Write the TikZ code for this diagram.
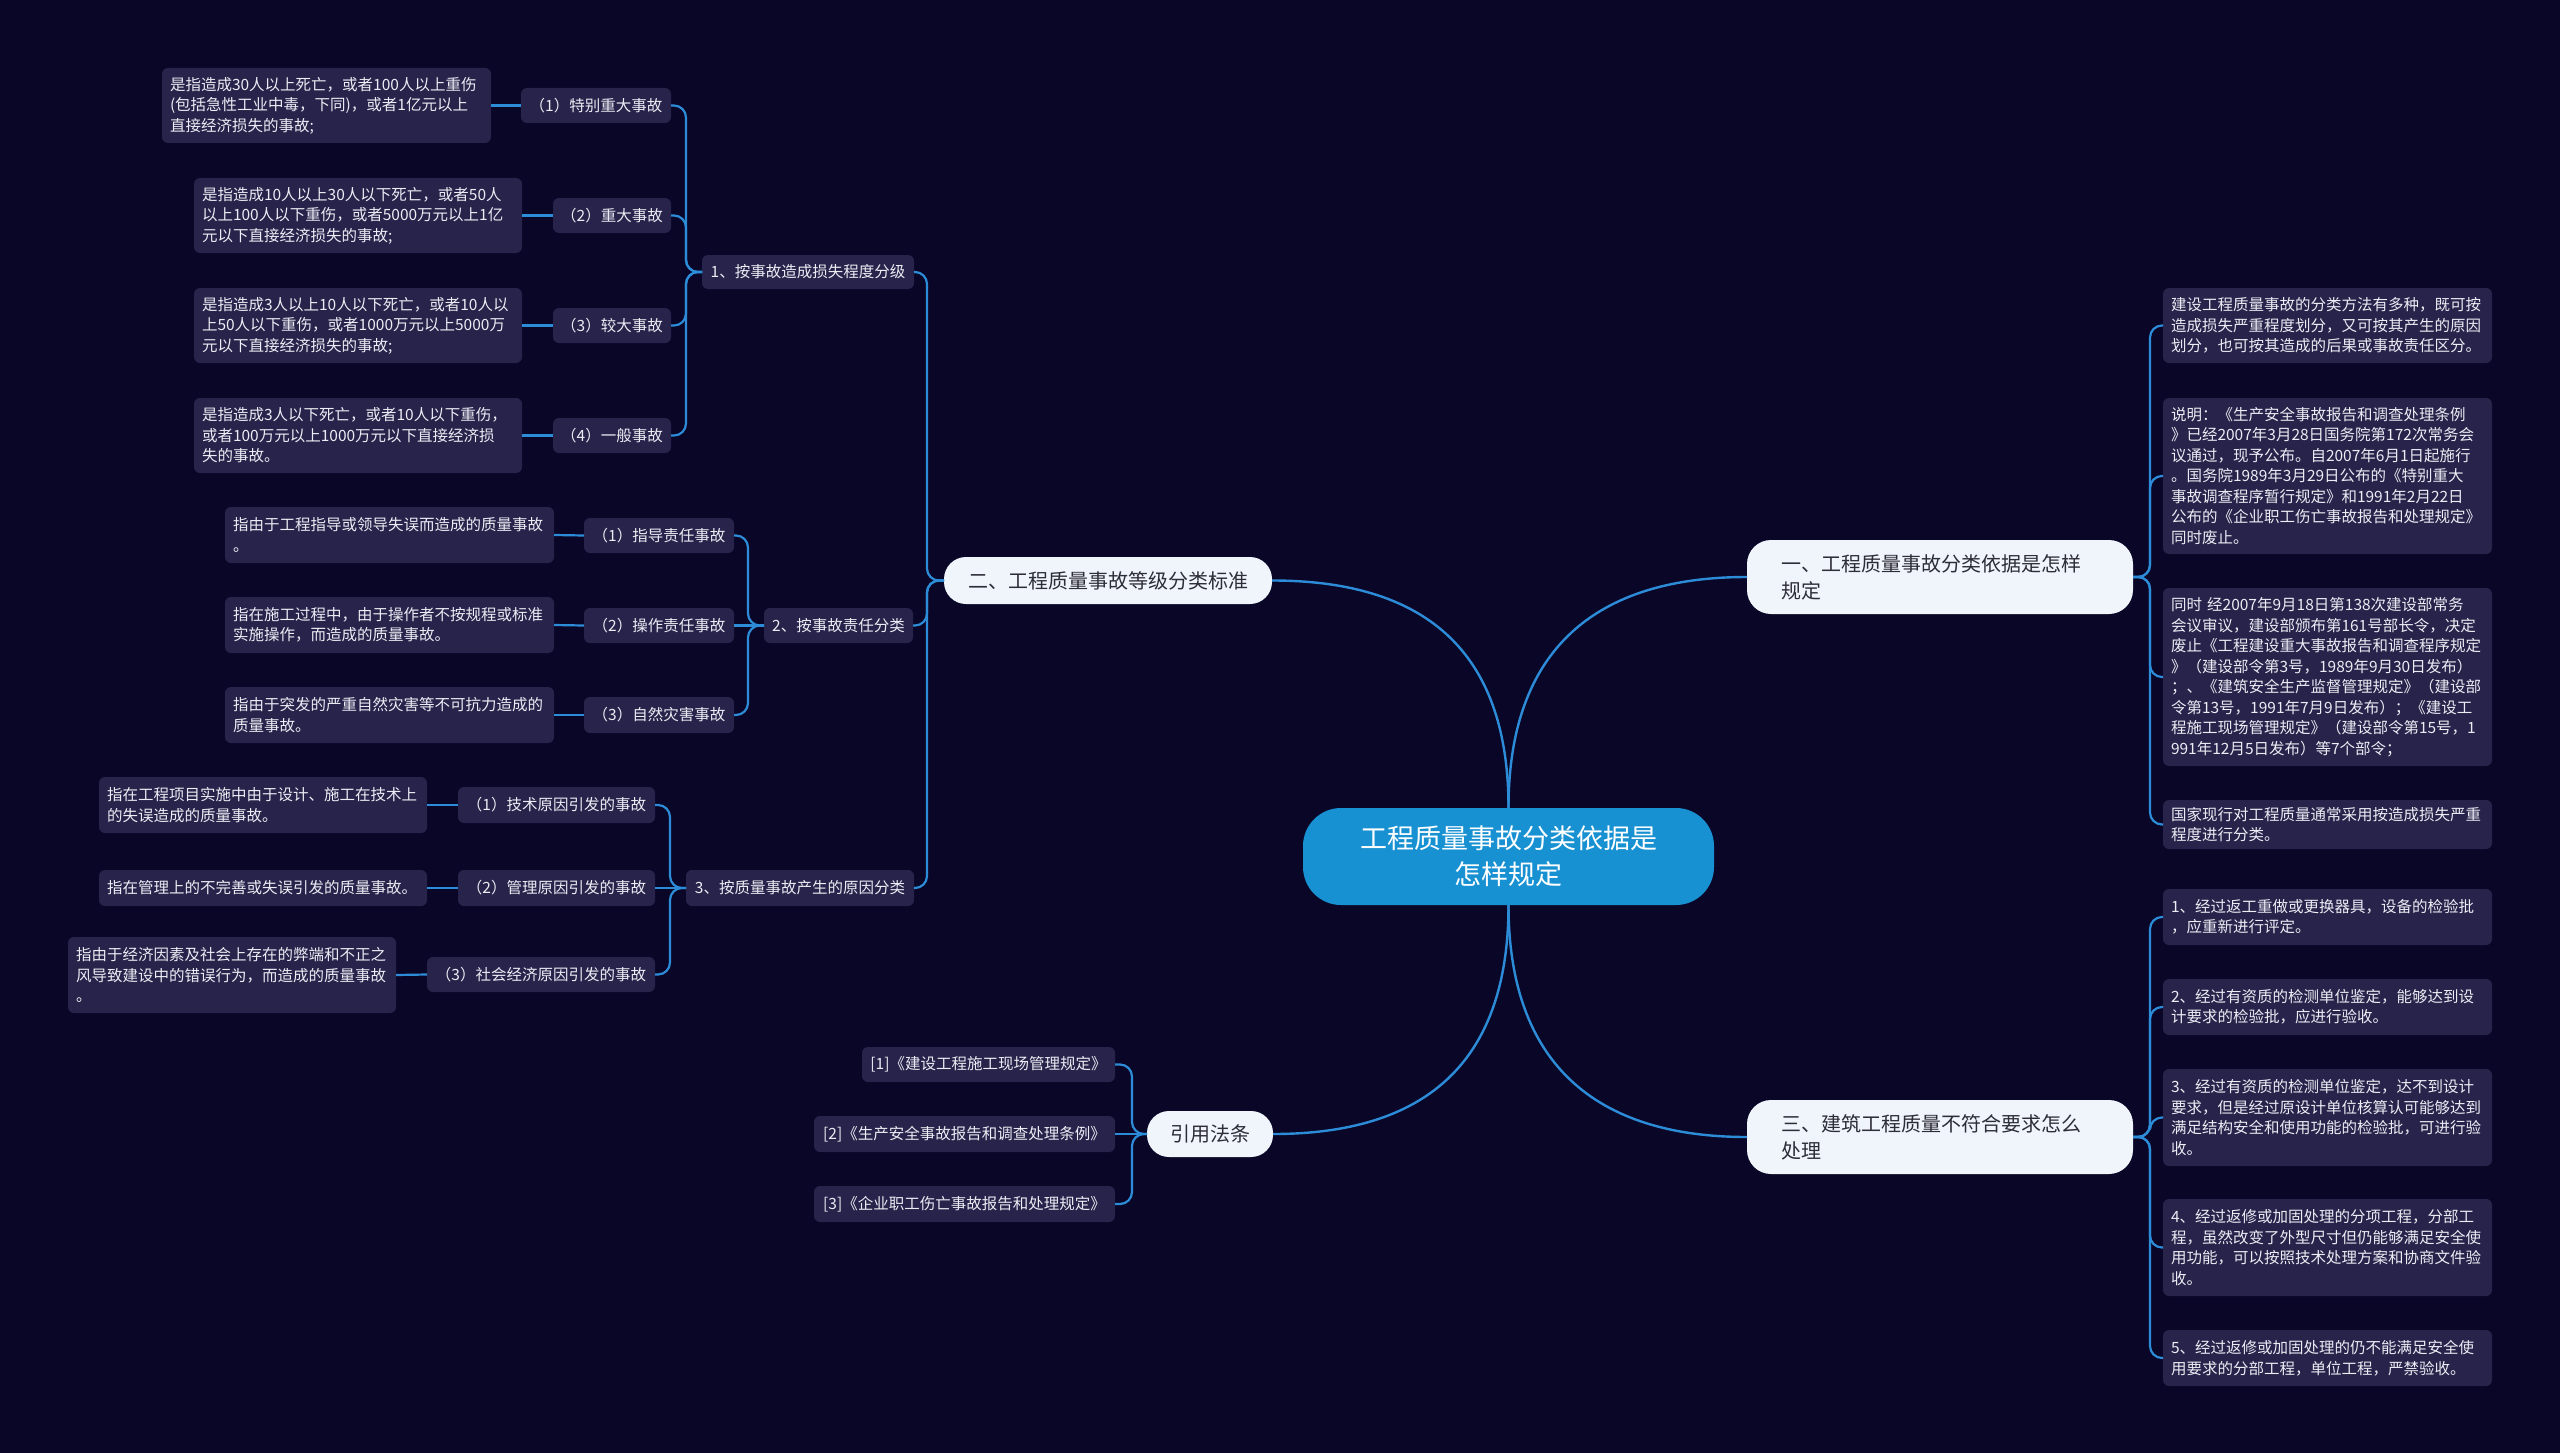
\documentclass[tikz,border=0pt]{standalone}
\usepackage{fontspec}
\setmainfont{Noto Sans CJK SC}
\definecolor{bgc}{RGB}{10,6,40}
\definecolor{leafc}{RGB}{39,35,74}
\definecolor{leaftext}{RGB}{236,236,244}
\definecolor{linec}{RGB}{45,140,215}
\definecolor{rootc}{RGB}{24,145,210}
\definecolor{mainc}{RGB}{240,245,252}
\definecolor{maintext}{RGB}{45,45,55}
\newcommand{\mmbox}[8]{%
 \pgfmathsetmacro{\mmw}{#5-#3}\pgfmathsetmacro{\mmh}{#6-#4}%
 \pgfmathsetmacro{\mmtw}{#5-#3-2*#7}%
 \pgfmathsetmacro{\mmcx}{(#3+#5)/2}\pgfmathsetmacro{\mmcy}{(#4+#6)/2}%
 \node[#1, inner xsep=#7pt, text width=\mmtw pt, minimum width=\mmw pt, minimum height=\mmh pt] (#2) at (\mmcx,\mmcy) {#8};}
\tikzset{
 base/.style={outer sep=0pt, inner ysep=0pt},
 leaf/.style={base, fill=leafc, rounded corners=6pt, text=leaftext, align=left, font=\fontsize{15.5}{20.5}\selectfont},
 mid/.style={base, fill=leafc, rounded corners=6pt, text=leaftext, align=center, font=\fontsize{15.5}{20.5}\selectfont},
 mainl/.style={base, fill=mainc, rounded corners=24pt, text=maintext, align=left, font=\fontsize{20}{27}\selectfont},
 mainc/.style={base, fill=mainc, rounded corners=22pt, text=maintext, align=center, font=\fontsize{20}{27}\selectfont},
 rootn/.style={base, fill=rootc, rounded corners=38pt, text=white, align=center, font=\fontsize{27}{36}\selectfont},
 conn/.style={draw=linec, line width=2.2pt, rounded corners=12pt},
 curv/.style={draw=linec, line width=2.4pt},
}
\begin{document}
\begin{tikzpicture}[x=1pt,y=-1pt]
\fill[bgc] (0,0) rectangle (2560,1453);
\useasboundingbox (0,0) rectangle (2560,1453);
% root and main branches
\mmbox{rootn}{root}{1303}{808}{1714}{905}{20}{工程质量事故分类依据是\\怎样规定}
\mmbox{mainl}{one}{1747}{540}{2133}{614}{34}{一、工程质量事故分类依据是怎样\\规定}
\mmbox{mainc}{two}{944}{557}{1272}{604}{12}{二、工程质量事故等级分类标准}
\mmbox{mainl}{three}{1747}{1100}{2133}{1174}{34}{三、建筑工程质量不符合要求怎么\\处理}
\mmbox{mainc}{law}{1147}{1111}{1273}{1157}{10}{引用法条}
% level 2 left
\mmbox{mid}{c1}{702}{255}{914}{289}{6}{1、按事故造成损失程度分级}
\mmbox{mid}{c2}{764}{608}{913}{643}{6}{2、按事故责任分类}
\mmbox{mid}{c3}{686}{870}{914}{906}{6}{3、按质量事故产生的原因分类}
% level 3
\mmbox{mid}{c1a}{521}{88}{671}{123}{6}{（1）特别重大事故}
\mmbox{mid}{c1b}{553}{198}{671}{233}{6}{（2）重大事故}
\mmbox{mid}{c1c}{553}{308}{671}{343}{6}{（3）较大事故}
\mmbox{mid}{c1d}{553}{418}{671}{453}{6}{（4）一般事故}
\mmbox{mid}{c2a}{584}{518}{734}{553}{6}{（1）指导责任事故}
\mmbox{mid}{c2b}{584}{608}{734}{643}{6}{（2）操作责任事故}
\mmbox{mid}{c2c}{584}{697}{734}{733}{6}{（3）自然灾害事故}
\mmbox{mid}{c3a}{458}{787}{655}{823}{6}{（1）技术原因引发的事故}
\mmbox{mid}{c3b}{458}{870}{655}{906}{6}{（2）管理原因引发的事故}
\mmbox{mid}{c3c}{427}{957}{655}{992}{6}{（3）社会经济原因引发的事故}
% level 4
\mmbox{leaf}{d1a}{162}{68}{491}{143}{8}{是指造成30人以上死亡，或者100人以上重伤\\(包括急性工业中毒，下同)，或者1亿元以上\\直接经济损失的事故;}
\mmbox{leaf}{d1b}{194}{178}{522}{253}{8}{是指造成10人以上30人以下死亡，或者50人\\以上100人以下重伤，或者5000万元以上1亿\\元以下直接经济损失的事故;}
\mmbox{leaf}{d1c}{194}{288}{522}{363}{8}{是指造成3人以上10人以下死亡，或者10人以\\上50人以下重伤，或者1000万元以上5000万\\元以下直接经济损失的事故;}
\mmbox{leaf}{d1d}{194}{398}{522}{473}{8}{是指造成3人以下死亡，或者10人以下重伤，\\或者100万元以上1000万元以下直接经济损\\失的事故。}
\mmbox{leaf}{d2a}{225}{507}{554}{563}{8}{指由于工程指导或领导失误而造成的质量事故\\。}
\mmbox{leaf}{d2b}{225}{597}{554}{653}{8}{指在施工过程中，由于操作者不按规程或标准\\实施操作，而造成的质量事故。}
\mmbox{leaf}{d2c}{225}{687}{554}{743}{8}{指由于突发的严重自然灾害等不可抗力造成的\\质量事故。}
\mmbox{leaf}{d3a}{99}{777}{427}{833}{8}{指在工程项目实施中由于设计、施工在技术上\\的失误造成的质量事故。}
\mmbox{leaf}{d3b}{99}{870}{427}{906}{8}{指在管理上的不完善或失误引发的质量事故。}
\mmbox{leaf}{d3c}{68}{937}{396}{1013}{8}{指由于经济因素及社会上存在的弊端和不正之\\风导致建设中的错误行为，而造成的质量事故\\。}
% right side
\mmbox{leaf}{r1}{2163}{288}{2492}{363}{8}{建设工程质量事故的分类方法有多种，既可按\\造成损失严重程度划分，又可按其产生的原因\\划分，也可按其造成的后果或事故责任区分。}
\mmbox{leaf}{r2}{2163}{398}{2492}{554}{8}{说明：《生产安全事故报告和调查处理条例\\》已经2007年3月28日国务院第172次常务会\\议通过，现予公布。自2007年6月1日起施行\\。国务院1989年3月29日公布的《特别重大\\事故调查程序暂行规定》和1991年2月22日\\公布的《企业职工伤亡事故报告和处理规定》\\同时废止。}
\mmbox{leaf}{r3}{2163}{588}{2492}{766}{8}{同时 经2007年9月18日第138次建设部常务\\会议审议，建设部颁布第161号部长令，决定\\废止《工程建设重大事故报告和调查程序规定\\》（建设部令第3号，1989年9月30日发布）\\；、《建筑安全生产监督管理规定》（建设部\\令第13号，1991年7月9日发布）；《建设工\\程施工现场管理规定》（建设部令第15号，1\\991年12月5日发布）等7个部令；}
\mmbox{leaf}{r4}{2163}{800}{2492}{849}{8}{国家现行对工程质量通常采用按造成损失严重\\程度进行分类。}
\mmbox{leaf}{s1}{2163}{889}{2492}{945}{8}{1、经过返工重做或更换器具，设备的检验批\\，应重新进行评定。}
\mmbox{leaf}{s2}{2163}{979}{2492}{1035}{8}{2、经过有资质的检测单位鉴定，能够达到设\\计要求的检验批，应进行验收。}
\mmbox{leaf}{s3}{2163}{1069}{2492}{1166}{8}{3、经过有资质的检测单位鉴定，达不到设计\\要求，但是经过原设计单位核算认可能够达到\\满足结构安全和使用功能的检验批，可进行验\\收。}
\mmbox{leaf}{s4}{2163}{1199}{2492}{1296}{8}{4、经过返修或加固处理的分项工程，分部工\\程，虽然改变了外型尺寸但仍能够满足安全使\\用功能，可以按照技术处理方案和协商文件验\\收。}
\mmbox{leaf}{s5}{2163}{1330}{2492}{1386}{8}{5、经过返修或加固处理的仍不能满足安全使\\用要求的分部工程，单位工程，严禁验收。}
% references
\mmbox{mid}{f1}{862}{1047}{1115}{1082}{4}{[1]《建设工程施工现场管理规定》}
\mmbox{mid}{f2}{814}{1116}{1115}{1152}{4}{[2]《生产安全事故报告和调查处理条例》}
\mmbox{mid}{f3}{814}{1186}{1115}{1222}{4}{[3]《企业职工伤亡事故报告和处理规定》}
% root curves
\draw[curv] (root.north) .. controls +(0,-160) and +(-150,0) .. (one.west);
\draw[curv] (root.north) .. controls +(0,-160) and +(150,0) .. (two.east);
\draw[curv] (root.south) .. controls +(0,160) and +(-150,0) .. (three.west);
\draw[curv] (root.south) .. controls +(0,160) and +(150,0) .. (law.east);
% brackets: two
\foreach \c in {c1,c2,c3} \draw[conn] (two.west) -- ++(-17,0) |- (\c.east);
% c1
\foreach \c in {c1a,c1b,c1c,c1d} \draw[conn] (c1.west) -- ++(-16,0) |- (\c.east);
\draw[conn] (c2.west) -- ++(-16,0) |- (c2a.east);
\draw[conn] (c2.west) -- (c2b.east);
\draw[conn] (c2.west) -- ++(-16,0) |- (c2c.east);
\draw[conn] (c3.west) -- ++(-16,0) |- (c3a.east);
\draw[conn] (c3.west) -- (c3b.east);
\draw[conn] (c3.west) -- ++(-16,0) |- (c3c.east);
% leaf links
\draw[conn] (c1a.west) -- (d1a.east);
\draw[conn] (c1b.west) -- (d1b.east);
\draw[conn] (c1c.west) -- (d1c.east);
\draw[conn] (c1d.west) -- (d1d.east);
\draw[conn] (c2a.west) -- (d2a.east);
\draw[conn] (c2b.west) -- (d2b.east);
\draw[conn] (c2c.west) -- (d2c.east);
\draw[conn] (c3a.west) -- (d3a.east);
\draw[conn] (c3b.west) -- (d3b.east);
\draw[conn] (c3c.west) -- (d3c.east);
% right brackets
\foreach \c in {r1,r2,r3,r4} \draw[conn] (one.east) -- ++(17,0) |- (\c.west);
\foreach \c in {s1,s2,s3,s4,s5} \draw[conn] (three.east) -- ++(17,0) |- (\c.west);
% law
\draw[conn] (law.west) -- ++(-15,0) |- (f1.east);
\draw[conn] (law.west) -- (f2.east);
\draw[conn] (law.west) -- ++(-15,0) |- (f3.east);
\end{tikzpicture}
\end{document}
